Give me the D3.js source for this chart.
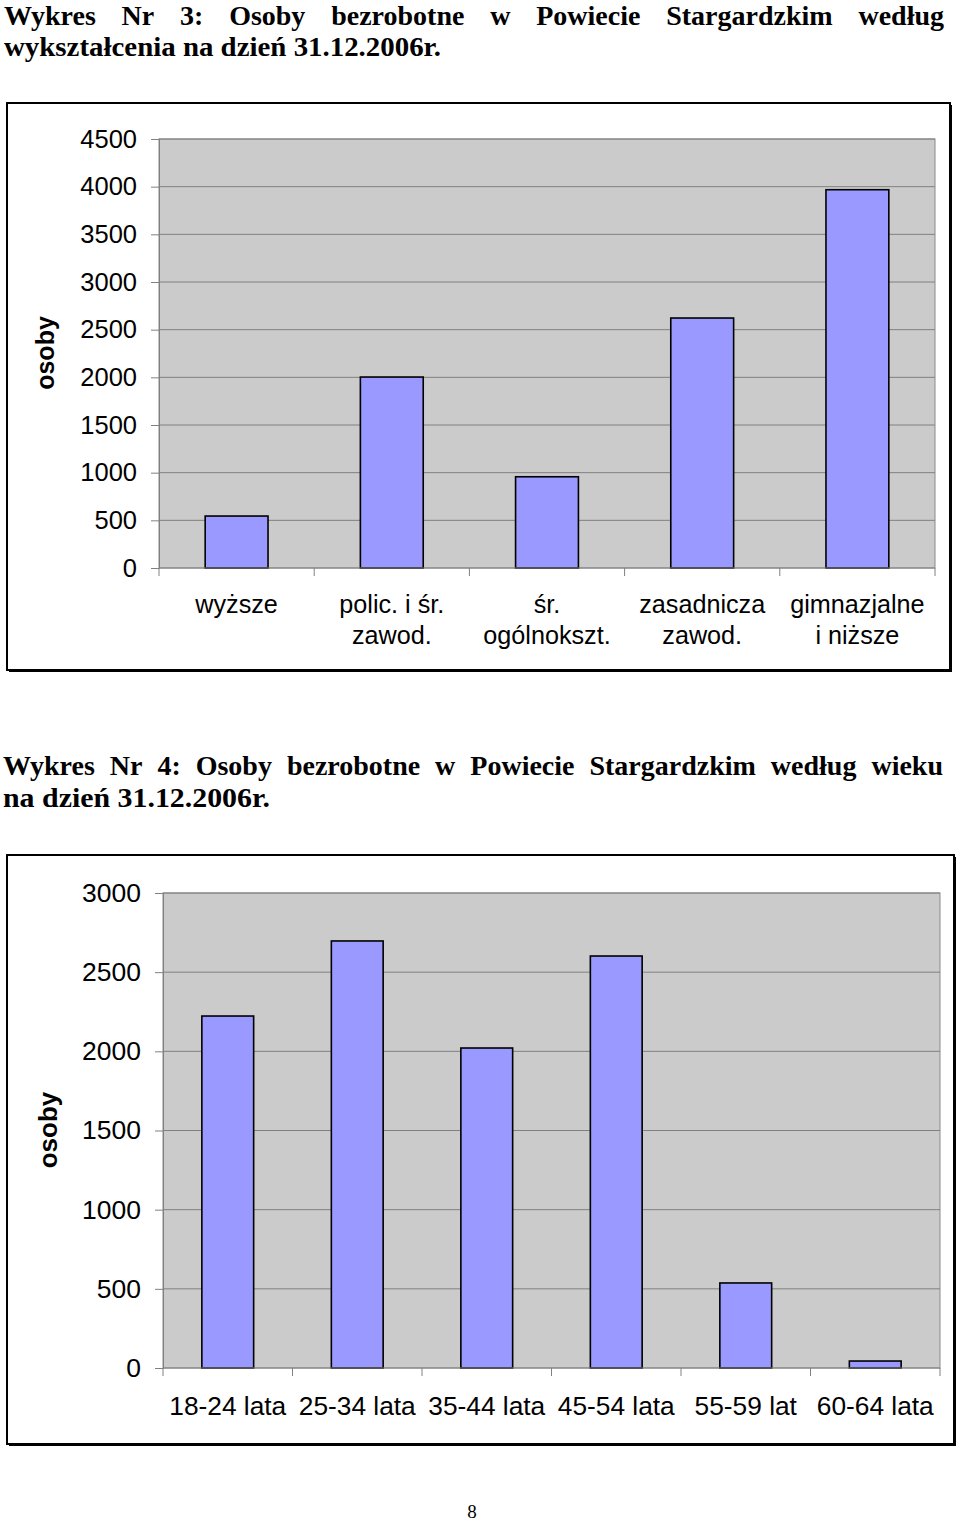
<!DOCTYPE html>
<html><head><meta charset="utf-8">
<script src="https://cdn.jsdelivr.net/npm/d3@7"></script>
<style>
body{margin:0;background:#fff;}
svg{display:block;}
</style></head>
<body>
<svg id="page" width="960" height="1524"></svg>
<script>
// ---- Data ----
const title1Line1 = "Wykres Nr 3: Osoby bezrobotne w Powiecie Stargardzkim według";
const title1Line2 = "wykształcenia na dzień 31.12.2006r.";
const title2Line1 = "Wykres Nr 4: Osoby bezrobotne w Powiecie Stargardzkim według wieku";
const title2Line2 = "na dzień 31.12.2006r.";
const yLabel = "osoby";

const eduCategories = [["wyższe"], ["polic. i śr.", "zawod."], ["śr.", "ogólnokszt."], ["zasadnicza", "zawod."], ["gimnazjalne", "i niższe"]];
const eduValues = [545, 2003, 957, 2622, 3968];
const eduTicks = [0, 500, 1000, 1500, 2000, 2500, 3000, 3500, 4000, 4500];

const ageCategories = ["18-24 lata", "25-34 lata", "35-44 lata", "45-54 lata", "55-59 lat", "60-64 lata"];
const ageValues = [2223, 2697, 2021, 2602, 537, 44];
const ageTicks = [0, 500, 1000, 1500, 2000, 2500, 3000];

const pageNumber = "8";

// ---- Drawing ----
const svg = d3.select("#page");
const serif = "'Liberation Serif','Times New Roman',serif";
const sans = "'Liberation Sans',Arial,sans-serif";

function justifiedLine(text, x0, x1, y, size) {
  const words = text.split(" ");
  const g = svg.append("g");
  const nodes = words.map(w => g.append("text").text(w)
      .attr("y", y).attr("font-family", serif).attr("font-weight", "bold")
      .attr("font-size", size).attr("fill", "#000"));
  const widths = nodes.map(n => n.node().getComputedTextLength());
  const total = d3.sum(widths);
  const gap = (x1 - x0 - total) / (words.length - 1);
  let x = x0;
  nodes.forEach((n, i) => { n.attr("x", x); x += widths[i] + gap; });
}
function plainLine(text, x0, x1, y, size) {
  svg.append("text").text(text).attr("x", x0).attr("y", y)
    .attr("font-family", serif).attr("font-weight", "bold").attr("font-size", size)
    .attr("textLength", x1 - x0).attr("lengthAdjust", "spacingAndGlyphs");
}

function barChart(opt) {
  svg.append("rect").attr("x", opt.frame[0] + 2).attr("y", opt.frame[1] + 2)
    .attr("width", opt.frame[2] - opt.frame[0]).attr("height", opt.frame[3] - opt.frame[1])
    .attr("fill", "#000");
  svg.append("rect").attr("x", opt.frame[0]).attr("y", opt.frame[1])
    .attr("width", opt.frame[2] - opt.frame[0]).attr("height", opt.frame[3] - opt.frame[1])
    .attr("fill", "#fff").attr("stroke", "#000").attr("stroke-width", 2);

  const L = opt.plot[0], R = opt.plot[1], T = opt.plot[2], B = opt.plot[3];
  const y = d3.scaleLinear().domain([0, d3.max(opt.ticks)]).range([B, T]);
  const x = d3.scaleBand().domain(d3.range(opt.values.length)).range([L, R])
    .paddingInner(opt.pad).paddingOuter(opt.pad / 2);
  const x0 = d3.scaleBand().domain(d3.range(opt.values.length)).range([L, R]).padding(0);

  const g = svg.append("g");
  g.append("rect").attr("x", L).attr("y", T).attr("width", R - L).attr("height", B - T)
    .attr("fill", "#cbcbcb").attr("stroke", "#8a8a8a").attr("stroke-width", 1);

  g.selectAll(".grid").data(opt.ticks.filter(t => t > 0)).join("line")
    .attr("x1", L).attr("x2", R).attr("y1", d => y(d)).attr("y2", d => y(d))
    .attr("stroke", "#808080").attr("stroke-width", 1);

  const ya = g.append("g").attr("transform", `translate(${L},0)`)
    .call(d3.axisLeft(y).tickValues(opt.ticks).tickSize(8).tickPadding(14).tickFormat(d3.format("d")));
  ya.select(".domain").attr("stroke", "#808080");
  ya.selectAll(".tick line").attr("stroke", "#808080");
  ya.selectAll(".tick text").attr("font-family", sans).attr("font-size", opt.tickSize).attr("fill", "#000");

  g.selectAll(".bar").data(opt.values).join("rect")
    .attr("x", (d, i) => x(i)).attr("width", x.bandwidth())
    .attr("y", d => y(d)).attr("height", d => B - y(d))
    .attr("fill", "#9999ff").attr("stroke", "#000").attr("stroke-width", 1.6);

  g.append("line").attr("x1", L).attr("x2", R).attr("y1", B).attr("y2", B)
    .attr("stroke", "#808080").attr("stroke-width", 1);
  const bounds = d3.range(opt.values.length).map(i => x0(i)).concat([R]);
  g.selectAll(".xt").data(bounds).join("line")
    .attr("x1", d => d).attr("x2", d => d).attr("y1", B).attr("y2", B + 8)
    .attr("stroke", "#808080");

  opt.categories.forEach((c, i) => {
    const lines = Array.isArray(c) ? c : [c];
    lines.forEach((ln, j) => {
      g.append("text").text(ln).attr("x", x(i) + x.bandwidth() / 2)
        .attr("y", opt.labelY + j * opt.labelLH).attr("text-anchor", "middle")
        .attr("font-family", sans).attr("font-size", opt.labelSize).attr("fill", "#000");
    });
  });

  g.append("text").text(yLabel)
    .attr("transform", `translate(${opt.yLabelPos[0]},${opt.yLabelPos[1]}) rotate(-90)`)
    .attr("text-anchor", "middle").attr("dy", "0.35em")
    .attr("font-family", sans).attr("font-weight", "bold").attr("font-size", opt.yLabelSize);
}

justifiedLine(title1Line1, 4, 944, 25, 28);
plainLine(title1Line2, 4, 441, 56, 28);

barChart({
  frame: [7, 103, 950, 670],
  plot: [159, 935, 139, 568],
  values: eduValues, categories: eduCategories, ticks: eduTicks,
  pad: 0.595, tickSize: 25.5, labelSize: 25.2, labelY: 613, labelLH: 31,
  yLabelPos: [45, 353], yLabelSize: 25
});

justifiedLine(title2Line1, 3, 943, 775, 28);
plainLine(title2Line2, 3, 270, 807, 28);

barChart({
  frame: [7, 855, 954, 1444],
  plot: [163, 940, 893, 1368],
  values: ageValues, categories: ageCategories, ticks: ageTicks,
  pad: 0.6, tickSize: 26.5, labelSize: 26.3, labelY: 1415, labelLH: 31,
  yLabelPos: [48, 1130], yLabelSize: 26
});

svg.append("text").text(pageNumber).attr("x", 472).attr("y", 1518)
  .attr("text-anchor", "middle").attr("font-family", serif).attr("font-size", 19);
</script>
</body></html>
